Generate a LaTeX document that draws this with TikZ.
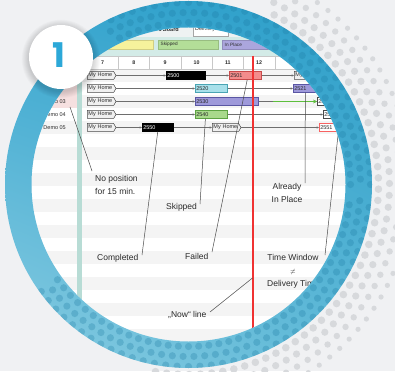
\documentclass[tikz,border=0pt]{standalone}
\usepackage{fontspec}
\setmainfont{Liberation Sans}
\newfontfamily\badgefont{Poppins}
\usetikzlibrary{arrows.meta,calc,shapes.symbols,shadings}

\definecolor{bgc}{HTML}{F0F1F3}
\definecolor{greydotc}{HTML}{D7D9DC}
\definecolor{ringul}{HTML}{38A6CF}
\definecolor{ringur}{HTML}{2A9DC8}
\definecolor{ringll}{HTML}{8ACDE2}
\definecolor{ringlr}{HTML}{5DB8D7}
\definecolor{ringdotc}{HTML}{1B7AA2}
\definecolor{badgeblue}{HTML}{2CA8D8}
\definecolor{toolbg}{HTML}{EEF2F2}
\definecolor{legbg}{HTML}{D3EBE7}
\definecolor{legyellow}{HTML}{F6F29C}
\definecolor{leggreen}{HTML}{B3DE98}
\definecolor{legpurple}{HTML}{ABA6DD}
\definecolor{stripec}{HTML}{F4F4F4}
\definecolor{pinkc}{HTML}{F6E0E0}
\definecolor{tealbar}{HTML}{B8DCD5}
\definecolor{nowredc}{RGB}{240,50,50}
\definecolor{redfill}{HTML}{F38C8C}
\definecolor{redline}{HTML}{C94A4A}
\definecolor{cyanfill}{HTML}{A8E0EA}
\definecolor{cyanline}{HTML}{4AA5B4}
\definecolor{purfill}{HTML}{9E99DA}
\definecolor{purline}{HTML}{5A56A3}
\definecolor{grnfill}{HTML}{A9D98C}
\definecolor{grnline}{HTML}{5EA343}
\definecolor{grnarrow}{RGB}{93,191,60}
\definecolor{linec}{HTML}{6E6E6E}
\definecolor{annoc}{HTML}{4A4A4A}
\definecolor{textc}{HTML}{2B2B2B}
\definecolor{hdrc}{HTML}{C8C8C8}

\tikzset{
  task/.style={draw, line width=0.5pt, minimum height=8pt, inner xsep=1pt, inner ysep=0pt,
    anchor=west, align=left, font=\fontsize{5.5}{6}\selectfont, text=textc},
  home/.style={shape=signal, signal to=east, signal pointer angle=120, draw=annoc,
    fill=black!6, line width=0.5pt, minimum height=8pt, inner xsep=1.2pt, inner ysep=0pt,
    text width=24pt, align=left, anchor=west, font=\fontsize{5.5}{6}\selectfont, text=textc},
  conn/.style={draw=linec, line width=0.45pt, -{Stealth[length=2.4pt,width=2.2pt]}},
  greenarrow/.style={color=grnarrow, line width=1.2pt, -{Stealth[length=4pt,width=3.8pt]}},
  annoline/.style={draw=annoc, line width=0.5pt},
  anno/.style={font=\fontsize{8.5}{13}\selectfont, text=textc, inner sep=0pt},
  legbox/.style={anchor=west, minimum height=9pt, inner xsep=2.5pt, inner ysep=0pt, align=left,
    font=\fontsize{4.7}{5}\selectfont, text=textc},
  hdr/.style={font=\bfseries\fontsize{5.3}{6}\selectfont, text=textc, inner sep=0pt},
  hdrline/.style={draw=hdrc, line width=0.5pt},
  demo/.style={font=\fontsize{5.5}{6}\selectfont, text=textc, inner sep=0pt, anchor=east},
  greydot/.style={fill=greydotc},
  ringdot/.style={fill=ringdotc, fill opacity=0.28},
  nowline/.style={color=nowredc, line width=1.2pt}
}

\begin{document}
\begin{tikzpicture}[x=1pt,y=-1pt]
\useasboundingbox (0,0) rectangle (395,371);
\fill[bgc] (0,0) rectangle (395,371);

% grey dots outside the ring
\foreach \r/\s/\off in {190/3.8/0, 201/3.6/1.7, 212/3.2/0, 223/2.6/1.7} {
  \foreach \a in {-100,-96.6,...,64} {
    \fill[greydot] ({188.5+\r*cos(\a+\off)},{184.5-\r*sin(\a+\off)}) circle (\s);
  }
}

% ---------- screenshot inside the circle ----------
\begin{scope}
\clip (188.5,184.5) circle (157);
\fill[white] (0,0) rectangle (395,371);
% toolbar
\fill[toolbg] (0,0) rectangle (395,37);
\node[font=\bfseries\fontsize{5.5}{6}\selectfont, text=textc, inner sep=0pt, anchor=east] (board) at (179,29.5) {mma Board};
\node[draw=black!35, fill=white, anchor=west, minimum height=14pt, text width=31pt, inner xsep=2pt, inner ysep=0pt, align=left, font=\fontsize{5.5}{6}\selectfont, text=textc] (deltab) at (193,29.5) {Delivery};
% legend strip
\fill[legbg] (0,37) rectangle (395,56);
\node[legbox, fill=legyellow, draw=legyellow!85!black, text width=88pt] (lgy) at (60,44.5) {};
\node[legbox, fill=leggreen, draw=leggreen!85!black, text width=55pt] (lgs) at (158,44.5) {Skipped};
\node[legbox, fill=legpurple, draw=legpurple!85!black, text width=65pt] (lgp) at (222,44.5) {In Place};
% row stripes
\foreach \k in {0,2,...,22} {
  \fill[stripec] (0,{69+13*\k}) rectangle (395,{82+13*\k});
}
% left column
\fill[pinkc] (0,69) rectangle (77,108);
\fill[tealbar] (77,53) rectangle (82,371);
\node[demo] (d3) at (66,101.5) {Demo 03};
\node[demo] (d4) at (66,114.5) {Demo 04};
\node[demo] (d5) at (66,127.5) {Demo 05};
% header row
\fill[white] (0,56) rectangle (395,69);
\draw[hdrline] (0,56) -- (395,56);
\draw[hdrline] (0,69) -- (395,69);
\foreach \i in {0,...,8} {
  \draw[hdrline] ({87+31.3*\i},56) -- ({87+31.3*\i},69);
}
\foreach \lab [count=\i from 0] in {7,8,9,10,11,12} {
  \node[hdr] (hd\lab) at ({102.6+31.3*\i},62.5) {\lab};
}

% rows
\node[home] (h1) at (87,75.5) {My Home};
\node[home] (h2) at (87,88.5) {My Home};
\node[home] (h3) at (87,101.5) {My Home};
\node[home] (h4) at (87,114.5) {My Home};
\node[home] (h5) at (87,127.5) {My Home};

\node[task, fill=black, draw=black, text=white, text width=37pt] (t2500) at (166,75.5) {2500};
\node[task, fill=redfill, draw=redline, text width=30pt] (t2501) at (229,75.5) {2501};
\node[home] (h1b) at (294,75.5) {My Home};

\node[task, fill=cyanfill, draw=cyanline, text width=30pt] (t2520) at (195,88.5) {2520};
\node[task, fill=purfill, draw=purline, text width=30pt] (t2521) at (293,88.5) {2521};

\node[task, fill=purfill, draw=purline, text width=61pt] (t2530) at (195,101.5) {2530};
\node[task, fill=white, draw=annoc, text width=26pt] (t2531) at (317,101.5) {2531};

\node[task, fill=grnfill, draw=grnline, text width=30pt] (t2540) at (195,114.5) {2540};
\node[task, fill=white, draw=annoc, text width=26pt] (t2541) at (323,114.5) {2541};

\node[task, fill=black, draw=black, text=white, text width=29pt] (t2550) at (142,127.5) {2550};
\node[home] (h5b) at (212,127.5) {My Home};
\node[task, fill=white, draw=redfill!70!red, text width=26pt] (t2551) at (319,127.5) {2551};

\draw[conn] (h1.east) -- (t2500.west);
\draw[conn] (t2500.east) -- (t2501.west);
\draw[conn] (t2501.east) -- (h1b.west);
\draw[conn] (h2.east) -- (t2520.west);
\draw[conn] (t2520.east) -- (t2521.west);
\draw[conn] (h3.east) -- (t2530.west);
\draw[conn] (t2530.east) -- (t2531.west);
\draw[conn] (h4.east) -- (t2540.west);
\draw[conn] (t2540.east) -- (t2541.west);
\draw[conn] (h5.east) -- (t2550.west);
\draw[conn] (t2550.east) -- (h5b.west);
\draw[conn] (h5b.east) -- (t2551.west);

\coordinate (ga1) at (273,101.5);
\draw[greenarrow] (ga1) -- (t2531.west);

% now line
\coordinate (nowtop) at (253,56);
\coordinate (nowbot) at (253,350);
\draw[nowline] (nowtop) -- (nowbot);

% annotations
\node[anno, align=left, anchor=west] (nopos) at (95,184.5) {No position\\for 15 min.};
\node[anno, anchor=west] (skipped) at (166,207.5) {Skipped};
\node[anno, anchor=west] (completed) at (97,258.5) {Completed};
\node[anno, anchor=west] (failed) at (185,256) {Failed};
\node[anno, align=center] (already) at (287,193) {Already\\In Place};
\node[anno, align=center] (tw) at (293,271) {Time Window\\{\fontsize{6}{13}\selectfont$\neq$}\\Delivery Time};
\node[anno, anchor=west] (nowlbl) at (168,315) {„Now“ line};

\coordinate (np1) at (70,107);
\coordinate (np2) at (92,171);
\draw[annoline] (np1) -- (np2);
\coordinate (cp2) at (142,255);
\draw[annoline] (t2550.south) -- (cp2);
\coordinate (sk2) at (200,204);
\draw[annoline] ($(t2540.south west)!0.32!(t2540.south east)$) -- (sk2);
\coordinate (fl2) at (212,252);
\draw[annoline] ($(t2501.south west)!0.56!(t2501.south east)$) -- (fl2);
\coordinate (al2) at (305,183);
\draw[annoline] ($(t2521.south west)!0.38!(t2521.south east)$) -- (al2);
\coordinate (tw2) at (325,255);
\draw[annoline] ($(t2551.south west)!0.68!(t2551.south east)$) -- (tw2);
\coordinate (nw1) at (210,312);
\coordinate (nw2) at (252.5,278);
\draw[annoline] (nw1) -- (nw2);
\end{scope}

% ---------- blue ring ----------
\begin{scope}[even odd rule]
\clip (188.5,184.5) circle (183.5) (188.5,184.5) circle (157);
\shade[upper left=ringul, upper right=ringur, lower left=ringll, lower right=ringlr] (0,0) rectangle (395,371);
\foreach \r/\off in {162/0, 172/1.8, 182/0} {
  \foreach \a in {0,3.6,...,356.4} {
    \pgfmathtruncatemacro\myflag{((\a+\off)>118)*((\a+\off)<215)}
    \ifnum\myflag=0
      \fill[ringdot] ({188.5+\r*cos(\a+\off)},{184.5-\r*sin(\a+\off)}) circle (3.6);
    \fi
  }
}
\end{scope}

% ---------- badge ----------
\foreach \i in {1,...,8} {
  \fill[black, opacity=0.02] (61,59) circle ({32+\i*0.9});
}
\node[circle, fill=white, minimum size=64pt, inner sep=0pt] (badge) at (61,57) {};
\node[font=\badgefont\bfseries\fontsize{34}{34}\selectfont, text=badgeblue, inner sep=0pt] (one) at (59,55) {1};
\end{tikzpicture}
\end{document}
